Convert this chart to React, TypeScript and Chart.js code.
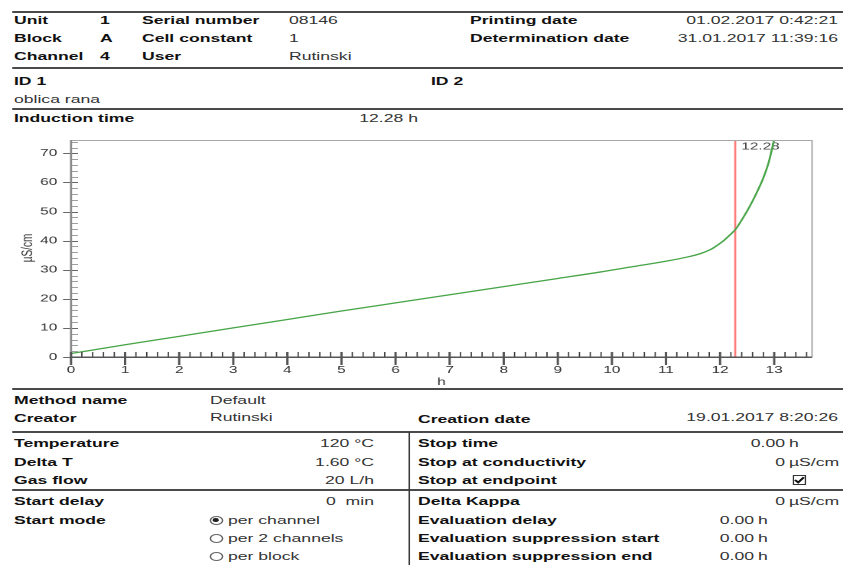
import React, { useEffect, useRef } from "react";
import { Chart, registerables } from "chart.js";

Chart.register(...registerables);

// ---------- chart data ----------
const timeH = [0, 1, 2, 3, 4, 5, 6, 7, 8, 9, 9.78, 10.4, 11.02, 11.4, 11.63, 11.82, 11.94, 12.06, 12.19, 12.29, 12.4, 12.5, 12.6, 12.7, 12.8, 12.9, 13.0];
const conductivity = [1.2, 4.2, 7.1, 10.0, 12.9, 15.8, 18.6, 21.4, 24.2, 27.0, 29.2, 31.1, 33.0, 34.4, 35.5, 36.9, 38.3, 39.9, 42.1, 44.0, 47.1, 50.2, 53.6, 57.4, 61.6, 67.0, 74.8];
const inductionTime = 12.28;
const xTickValues = [0, 1, 2, 3, 4, 5, 6, 7, 8, 9, 10, 11, 12, 13];
const yTickValues = [0, 10, 20, 30, 40, 50, 60, 70];
const xMax = 13.7;
const yMax = 74.6;
const xMinorStep = 0.2;
const yMinorStep = 2;
const xTitle = "h";
const yTitle = "µS/cm";

// ---------- report texts ----------
const headerLabels1 = ["Unit", "Block", "Channel"];
const headerValues1 = ["1", "A", "4"];
const headerLabels2 = ["Serial number", "Cell constant", "User"];
const headerValues2 = ["08146", "1", "Rutinski"];
const headerLabels3 = ["Printing date", "Determination date"];
const headerValues3 = ["01.02.2017 0:42:21", "31.01.2017 11:39:16"];
const leftLabels = ["Temperature", "Delta T", "Gas flow", "Start delay", "Start mode"];
const leftValues = ["120 °C", "1.60 °C", "20 L/h", "0\u00a0\u00a0min"];
const startModes = ["per channel", "per 2 channels", "per block"];
const rightLabels = ["Stop time", "Stop at conductivity", "Stop at endpoint", "Delta Kappa", "Evaluation delay", "Evaluation suppression start", "Evaluation suppression end"];
const rightNums = ["0.00", "0", "", "0", "0.00", "0.00", "0.00"];
const rightUnits = ["h", "µS/cm", "", "µS/cm", "h", "h", "h"];

// ---------- layout ----------
const S = 1.53; // horizontal stretch of the reference
const W = 843;
const H = 565;
const FONT = "'Liberation Sans', Arial, Helvetica, sans-serif";
const CH_TOP = 125;
const CH_H = 263;
const PLOT_L = 71;
const PLOT_R = 812;
const PLOT_T = 132;
const PLOT_B = 357;
const rowsTop = [20, 38, 56];
const rowsBottom = [443, 461.5, 480, 501, 520, 538, 556];

function T({ x, y, children, bold, right, size = 11.5, color }: any) {
  const style: React.CSSProperties = {
    position: "absolute",
    top: y - 7,
    height: 14,
    lineHeight: "14px",
    fontSize: size,
    fontWeight: bold ? 700 : 400,
    color: color ?? (bold ? "#111" : "#333"),
    whiteSpace: "nowrap",
  };
  if (right) style.right = (W - x) / S;
  else style.left = x / S;
  return <div style={style}>{children}</div>;
}

function HLine({ y }: { y: number }) {
  return <div style={{ position: "absolute", left: 12 / S, width: (W - 12) / S, top: y - 1, height: 2, background: "#4a4a4a" }} />;
}

function Radio({ x, y, on }: any) {
  return (
    <div style={{ position: "absolute", left: x / S, top: y - 4.5, width: 9, height: 9, boxSizing: "border-box", border: "1px solid #666", borderRadius: "50%", background: "#fff" }}>
      {on && <div style={{ position: "absolute", left: 1.8, top: 1.8, width: 3.4, height: 3.4, borderRadius: "50%", background: "#222" }} />}
    </div>
  );
}

const framePlugin = {
  id: "reportFrame",
  beforeDatasetsDraw(chart: any) {
    const { ctx, chartArea, scales } = chart;
    const { top, bottom } = chartArea;
    const xr = scales.x.getPixelForValue(inductionTime);
    ctx.save();
    ctx.strokeStyle = "#ff7b7b";
    ctx.lineWidth = 1.3;
    ctx.beginPath();
    ctx.moveTo(xr, top);
    ctx.lineTo(xr, bottom);
    ctx.stroke();
    ctx.fillStyle = "#444";
    ctx.font = `10px ${FONT}`;
    ctx.textAlign = "left";
    ctx.textBaseline = "middle";
    ctx.fillText(inductionTime.toFixed(2), xr + 4, top + 6.5);
    ctx.restore();
  },
  afterDraw(chart: any) {
    const { ctx, chartArea, scales } = chart;
    const { left, right, top, bottom } = chartArea;
    const xs = scales.x;
    const ys = scales.y;
    ctx.save();
    // top & right border
    ctx.strokeStyle = "#a8a8a8";
    ctx.lineWidth = 1;
    ctx.beginPath();
    ctx.moveTo(left, top + 0.5);
    ctx.lineTo(right, top + 0.5);
    ctx.moveTo(right, top);
    ctx.lineTo(right, bottom);
    ctx.stroke();
    // y minor ticks
    ctx.strokeStyle = "#a0a0a0";
    ctx.lineWidth = 1;
    for (let i = 0; i * yMinorStep <= yMax; i++) {
      const py = Math.round(ys.getPixelForValue(i * yMinorStep)) + 0.5;
      ctx.beginPath();
      ctx.moveTo(left, py);
      ctx.lineTo(left + 4.6, py);
      ctx.stroke();
    }
    // y major ticks
    ctx.strokeStyle = "#666";
    for (const v of yTickValues) {
      const py = Math.round(ys.getPixelForValue(v)) + 0.5;
      ctx.beginPath();
      ctx.moveTo(left - 5.2, py);
      ctx.lineTo(left + 4.6, py);
      ctx.stroke();
    }
    // left axis
    ctx.strokeStyle = "#8a8a8a";
    ctx.lineWidth = 1.4;
    ctx.beginPath();
    ctx.moveTo(left, top);
    ctx.lineTo(left, bottom);
    ctx.stroke();
    // x minor ticks
    ctx.strokeStyle = "#3c3c3c";
    ctx.lineWidth = 0.85;
    for (let i = 0; i * xMinorStep <= xMax + 1e-9; i++) {
      const px = xs.getPixelForValue(i * xMinorStep);
      ctx.beginPath();
      ctx.moveTo(px, bottom);
      ctx.lineTo(px, bottom - 5);
      ctx.stroke();
    }
    // x major ticks
    ctx.strokeStyle = "#555";
    ctx.lineWidth = 1.5;
    for (const v of xTickValues) {
      const px = xs.getPixelForValue(v);
      ctx.beginPath();
      ctx.moveTo(px, bottom - 5);
      ctx.lineTo(px, bottom + 8);
      ctx.stroke();
    }
    // bottom axis
    ctx.strokeStyle = "#555";
    ctx.lineWidth = 1.5;
    ctx.beginPath();
    ctx.moveTo(left, bottom + 0.25);
    ctx.lineTo(right, bottom + 0.25);
    ctx.stroke();
    // axis titles
    ctx.fillStyle = "#333";
    ctx.font = `10px ${FONT}`;
    ctx.textAlign = "center";
    ctx.textBaseline = "middle";
    ctx.fillText(xTitle, (left + right) / 2, 382 - CH_TOP);
    ctx.translate(28 / S, 248 - CH_TOP);
    ctx.rotate(-Math.PI / 2);
    ctx.fillText(yTitle, 0, 0);
    ctx.restore();
  },
};

export default function App() {
  const ref = useRef<HTMLCanvasElement>(null);
  useEffect(() => {
    const chart = new Chart(ref.current!, {
      type: "scatter",
      data: {
        datasets: [
          {
            data: timeH.map((t, i) => ({ x: t, y: conductivity[i] })),
            showLine: true,
            borderColor: "#47a447",
            borderWidth: 1.3,
            pointRadius: 0,
            cubicInterpolationMode: "monotone",
            fill: false,
          } as any,
        ],
      },
      options: {
        animation: false,
        responsive: true,
        maintainAspectRatio: false,
        devicePixelRatio: 2,
        events: [],
        layout: { padding: { left: 0, right: (W - PLOT_R) / S, top: PLOT_T - CH_TOP, bottom: 0 } },
        plugins: { legend: { display: false }, tooltip: { enabled: false }, title: { display: false } },
        scales: {
          x: {
            type: "linear",
            min: 0,
            max: xMax,
            grid: { display: false, drawTicks: false },
            border: { display: false },
            afterBuildTicks: (s: any) => {
              s.ticks = xTickValues.map((v) => ({ value: v }));
            },
            afterFit: (s: any) => {
              s.height = CH_TOP + CH_H - PLOT_B;
            },
            ticks: { font: { family: FONT, size: 10 }, color: "#333", padding: 7, maxRotation: 0, autoSkip: false, callback: (v: any) => String(v) },
          },
          y: {
            type: "linear",
            min: 0,
            max: yMax,
            grid: { display: false, drawTicks: false },
            border: { display: false },
            afterBuildTicks: (s: any) => {
              s.ticks = yTickValues.map((v) => ({ value: v }));
            },
            afterFit: (s: any) => {
              s.width = PLOT_L / S;
            },
            ticks: { font: { family: FONT, size: 10 }, color: "#333", padding: 9, autoSkip: false, callback: (v: any) => String(v) },
          },
        },
      } as any,
      plugins: [framePlugin],
    });
    return () => chart.destroy();
  }, []);

  return (
    <div
      style={{
        position: "fixed",
        left: 0,
        top: 0,
        width: W / S,
        height: H,
        transform: `scaleX(${S})`,
        transformOrigin: "0 0",
        background: "#fff",
        overflow: "hidden",
        fontFamily: FONT,
      }}
    >
      <HLine y={12} />
      {headerLabels1.map((l, i) => (
        <React.Fragment key={"h" + i}>
          <T x={14} y={rowsTop[i]} bold>{l}</T>
          <T x={100} y={rowsTop[i]} bold>{headerValues1[i]}</T>
          <T x={142} y={rowsTop[i]} bold>{headerLabels2[i]}</T>
          <T x={289} y={rowsTop[i]}>{headerValues2[i]}</T>
          {headerLabels3[i] && <T x={470} y={rowsTop[i]} bold>{headerLabels3[i]}</T>}
          {headerValues3[i] && <T x={838} y={rowsTop[i]} right>{headerValues3[i]}</T>}
        </React.Fragment>
      ))}
      <HLine y={68} />
      <T x={14} y={81} bold>ID 1</T>
      <T x={431} y={81} bold>ID 2</T>
      <T x={14} y={99}>oblica rana</T>
      <HLine y={109} />
      <T x={14} y={118} bold>Induction time</T>
      <T x={418} y={118} right>{inductionTime.toFixed(2) + " h"}</T>

      <div style={{ position: "absolute", left: 0, top: CH_TOP, width: W / S, height: CH_H }}>
        <canvas ref={ref} />
      </div>

      <HLine y={389} />
      <T x={14} y={400} bold>Method name</T>
      <T x={210} y={400}>Default</T>
      <T x={14} y={418} bold>Creator</T>
      <T x={210} y={417}>Rutinski</T>
      <T x={418} y={419} bold>Creation date</T>
      <T x={838} y={417} right>19.01.2017 8:20:26</T>
      <HLine y={432} />
      <HLine y={490} />
      <div style={{ position: "absolute", left: 408 / S, top: 432, width: 1.3, height: H - 432, background: "#3a3a3a" }} />

      {leftLabels.map((l, i) => (
        <T key={"l" + i} x={14} y={rowsBottom[i]} bold>{l}</T>
      ))}
      {leftValues.map((v, i) => (
        <T key={"lv" + i} x={374} y={rowsBottom[i]} right>{v}</T>
      ))}
      {startModes.map((m, i) => (
        <React.Fragment key={"m" + i}>
          <Radio x={209} y={rowsBottom[4 + i]} on={i === 0} />
          <T x={228} y={rowsBottom[4 + i]}>{m}</T>
        </React.Fragment>
      ))}

      {rightLabels.map((l, i) => (
        <React.Fragment key={"r" + i}>
          <T x={418} y={rowsBottom[i]} bold>{l}</T>
          {rightNums[i] && <T x={i < 4 ? 785 : 754} y={rowsBottom[i]} right>{rightNums[i]}</T>}
          {rightUnits[i] && <T x={i < 4 ? 789 : 758} y={rowsBottom[i]}>{rightUnits[i]}</T>}
        </React.Fragment>
      ))}
      <svg style={{ position: "absolute", left: 792 / S, top: 475 }} width={9} height={10} viewBox="0 0 9 10">
        <rect x={0.5} y={0.5} width={8} height={9} fill="#fff" stroke="#333" strokeWidth={1} />
        <path d="M1.6 5 L3.7 7.4 L7.4 2.2" fill="none" stroke="#111" strokeWidth={1.6} />
      </svg>
    </div>
  );
}
